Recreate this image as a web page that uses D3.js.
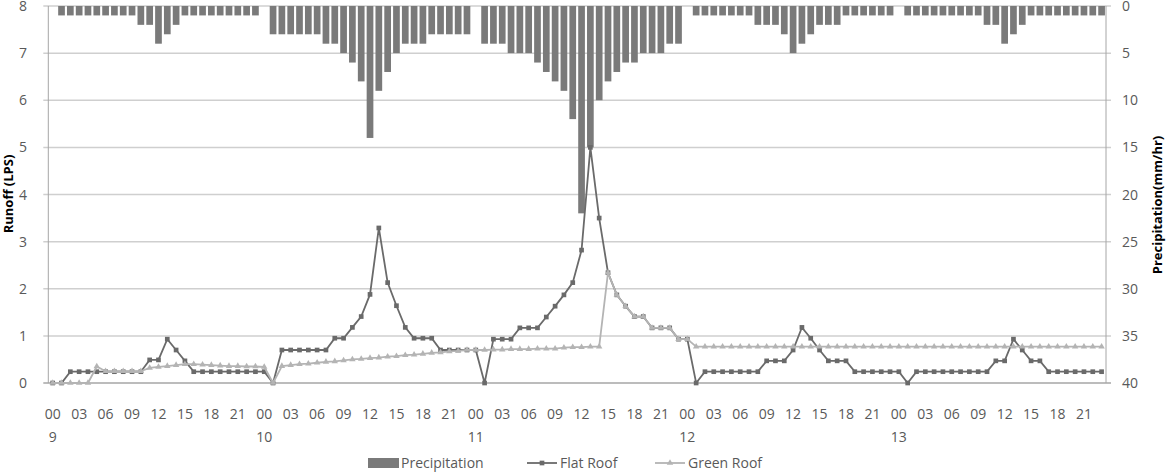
<!DOCTYPE html>
<html>
<head>
<meta charset="utf-8">
<script src="https://d3js.org/d3.v7.min.js"></script>
<style>
  body { margin: 0; background: #fff; }
  text { font-family: "Open Sans", sans-serif; }
</style>
</head>
<body>
<script>
// categories: 5 days x 24 hours
var days = ["9", "10", "11", "12", "13"];
var hourLabels = ["00", "03", "06", "09", "12", "15", "18", "21"];
var leftTicks = [0, 1, 2, 3, 4, 5, 6, 7, 8];
var rightTicks = [0, 5, 10, 15, 20, 25, 30, 35, 40];

// precipitation (mm/hr), one per hour
var precipitation = [
  0, 1, 1, 1, 1, 1, 1, 1, 1, 1, 2, 2, 4, 3, 2, 1, 1, 1, 1, 1, 1, 1, 1, 1,
  0, 3, 3, 3, 3, 3, 3, 4, 4, 5, 6, 8, 14, 9, 7, 5, 4, 4, 4, 3, 3, 3, 3, 3,
  0, 4, 4, 4, 5, 5, 5, 6, 7, 8, 9, 12, 22, 15, 10, 8, 7, 6, 6, 5, 5, 5, 4, 4,
  0, 1, 1, 1, 1, 1, 1, 1, 2, 2, 2, 3, 5, 4, 3, 2, 2, 2, 1, 1, 1, 1, 1, 1,
  0, 1, 1, 1, 1, 1, 1, 1, 1, 1, 2, 2, 4, 3, 2, 1, 1, 1, 1, 1, 1, 1, 1, 1
];

// runoff (LPS)
var flatRoof = [
  0, 0, .24, .24, .24, .24, .24, .24, .24, .24, .24, .49, .49, .93, .7, .47, .24, .24, .24, .24, .24, .24, .24, .24,
  .24, 0, .7, .7, .7, .7, .7, .7, .95, .95, 1.18, 1.41, 1.88, 3.29, 2.13, 1.64, 1.18, .95, .95, .95, .7, .7, .7, .7,
  .7, 0, .93, .93, .93, 1.17, 1.17, 1.17, 1.4, 1.63, 1.87, 2.13, 2.82, 5.0, 3.5, 2.34, 1.87, 1.63, 1.41, 1.41, 1.17, 1.17, 1.17, .93,
  .93, 0, .24, .24, .24, .24, .24, .24, .24, .47, .47, .47, .7, 1.18, .95, .7, .47, .47, .47, .24, .24, .24, .24, .24,
  .24, 0, .24, .24, .24, .24, .24, .24, .24, .24, .24, .47, .47, .93, .7, .47, .47, .24, .24, .24, .24, .24, .24, .24
];

var greenRoof = [
  0, 0, 0, 0, 0, .35, .25, .25, .25, .25, .25, .32, .34, .36, .38, .4, .4, .39, .38, .37, .36, .36, .35, .35,
  .34, 0, .36, .38, .4, .41, .43, .45, .46, .48, .5, .51, .53, .54, .56, .57, .59, .6, .62, .64, .65, .67, .68, .7,
  .7, .7, .71, .71, .72, .72, .72, .73, .73, .73, .75, .76, .76, .77, .77, 2.34, 1.87, 1.63, 1.41, 1.41, 1.17, 1.17, 1.17, .93,
  .93, .77, .77, .77, .77, .77, .77, .77, .77, .77, .77, .77, .77, .77, .77, .77, .77, .77, .77, .77, .77, .77, .77, .77,
  .77, .77, .77, .77, .77, .77, .77, .77, .77, .77, .77, .77, .77, .77, .77, .77, .77, .77, .77, .77, .77, .77, .77, .77
];

var width = 1167;
var height = 472;
var plotLeft = 48.3, plotRight = 1106, plotTop = 6, plotBottom = 383;

var svg = d3.select("body")
            .append("svg")
            .attr("width", width)
            .attr("height", height);

var idx = d3.range(precipitation.length);

var x = d3.scaleBand()
          .domain(idx)
          .range([plotLeft, plotRight])
          .paddingInner(0.24)
          .paddingOuter(0.12);
var cx = function(i) { return x(i) + x.bandwidth() / 2; };

var yL = d3.scaleLinear().domain([0, 8]).range([plotBottom, plotTop]);
var yR = d3.scaleLinear().domain([0, 40]).range([plotTop, plotBottom]);

// gridlines
svg.append("g")
   .selectAll("line")
   .data(leftTicks)
   .enter()
   .append("line")
   .attr("x1", plotLeft - 5)
   .attr("x2", plotRight + 5)
   .attr("y1", function(d) { return yL(d); })
   .attr("y2", function(d) { return yL(d); })
   .attr("stroke", function(d) { return d == 0 ? "#a6a6a6" : "#cfcfcf"; })
   .attr("stroke-width", 1.5);

// vertical axis lines
svg.append("line")
   .attr("x1", plotLeft).attr("x2", plotLeft)
   .attr("y1", plotTop).attr("y2", plotBottom)
   .attr("stroke", "#a6a6a6");
svg.append("line")
   .attr("x1", plotRight).attr("x2", plotRight)
   .attr("y1", plotTop).attr("y2", plotBottom)
   .attr("stroke", "#a6a6a6");

// left tick labels
svg.append("g")
   .selectAll("text")
   .data(leftTicks)
   .enter()
   .append("text")
   .attr("x", 27)
   .attr("y", function(d) { return yL(d) + 5; })
   .attr("text-anchor", "end")
   .attr("font-size", "14px")
   .attr("fill", "#595959")
   .text(function(d) { return d; });

// right tick labels
svg.append("g")
   .selectAll("text")
   .data(rightTicks)
   .enter()
   .append("text")
   .attr("x", 1122)
   .attr("y", function(d) { return yR(d) + 5; })
   .attr("font-size", "14px")
   .attr("fill", "#595959")
   .text(function(d) { return d; });

// axis titles
svg.append("text")
   .attr("transform", "translate(13,194) rotate(-90)")
   .attr("text-anchor", "middle")
   .attr("font-size", "13px")
   .attr("font-weight", "bold")
   .attr("fill", "#000")
   .text("Runoff (LPS)");
svg.append("text")
   .attr("transform", "translate(1162,205) rotate(-90)")
   .attr("text-anchor", "middle")
   .attr("font-size", "13px")
   .attr("font-weight", "bold")
   .attr("fill", "#000")
   .text("Precipitation(mm/hr)");

// x labels: hours every 3, day under 00
var hourTicks = idx.filter(function(i) { return i % 3 == 0; });
svg.append("g")
   .selectAll("text")
   .data(hourTicks)
   .enter()
   .append("text")
   .attr("x", function(i) { return cx(i); })
   .attr("y", 419)
   .attr("text-anchor", "middle")
   .attr("font-size", "14px")
   .attr("fill", "#595959")
   .text(function(i) { return hourLabels[(i % 24) / 3]; });

svg.append("g")
   .selectAll("text")
   .data(days)
   .enter()
   .append("text")
   .attr("x", function(d, i) { return cx(i * 24); })
   .attr("y", 442)
   .attr("text-anchor", "middle")
   .attr("font-size", "14px")
   .attr("fill", "#595959")
   .text(function(d) { return d; });

// precipitation bars hanging from the top
svg.append("g")
   .selectAll("rect")
   .data(idx)
   .enter()
   .append("rect")
   .attr("x", function(i) { return x(i); })
   .attr("y", yR(0))
   .attr("width", x.bandwidth())
   .attr("height", function(i) { return yR(precipitation[i]) - yR(0); })
   .attr("fill", "#7a7a7a");

// lines
var series = [
  { name: "Flat Roof", values: flatRoof, color: "#6a6a6a", shape: d3.symbolSquare, size: 22 },
  { name: "Green Roof", values: greenRoof, color: "#b4b4b4", shape: d3.symbolTriangle, size: 18 }
];

var line = d3.line()
             .x(function(d, i) { return cx(i); })
             .y(function(d) { return yL(d); });

series.forEach(function(s) {
  svg.append("path")
     .attr("d", line(s.values))
     .attr("fill", "none")
     .attr("stroke", s.color)
     .attr("stroke-width", 1.8);
  svg.append("g")
     .selectAll("path")
     .data(s.values)
     .enter()
     .append("path")
     .attr("transform", function(d, i) { return "translate(" + cx(i) + "," + yL(d) + ")"; })
     .attr("d", d3.symbol().type(s.shape).size(s.size))
     .attr("fill", s.color);
});

// legend
var lg = svg.append("g");
lg.append("rect")
  .attr("x", 368).attr("y", 458)
  .attr("width", 31).attr("height", 10)
  .attr("fill", "#7a7a7a");
lg.append("text")
  .attr("x", 401).attr("y", 468)
  .attr("font-size", "14px")
  .attr("fill", "#595959")
  .text("Precipitation");

var legendX = [527, 655];
series.forEach(function(s, k) {
  var lx = legendX[k];
  lg.append("line")
    .attr("x1", lx).attr("x2", lx + 30)
    .attr("y1", 463).attr("y2", 463)
    .attr("stroke", s.color)
    .attr("stroke-width", 1.8);
  lg.append("path")
    .attr("transform", "translate(" + (lx + 15) + ",463)")
    .attr("d", d3.symbol().type(s.shape).size(s.size))
    .attr("fill", s.color);
  lg.append("text")
    .attr("x", lx + 33).attr("y", 468)
    .attr("font-size", "14px")
    .attr("fill", "#595959")
    .text(s.name);
});
</script>
</body>
</html>
